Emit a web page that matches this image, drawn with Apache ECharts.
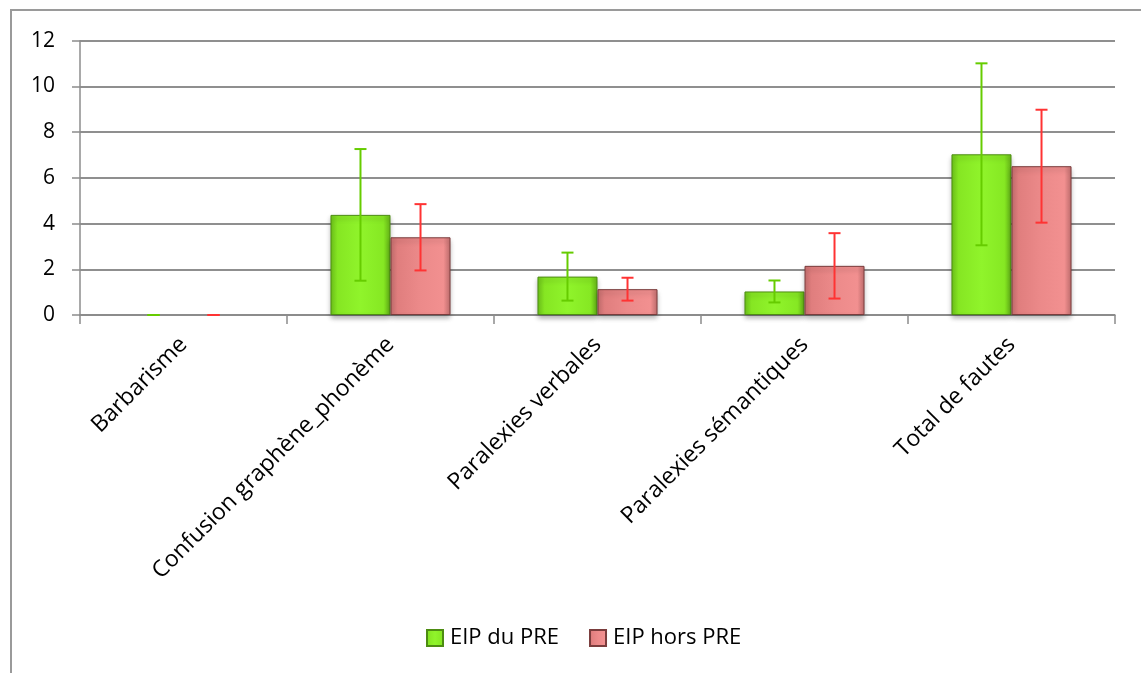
<!DOCTYPE html>
<html><head><meta charset="utf-8">
<script src="https://cdn.jsdelivr.net/npm/echarts@6/dist/echarts.min.js"></script>
<style>html,body{margin:0;padding:0;background:#fff}#c{width:1141px;height:673px}</style>
</head><body><div id="c"></div>
<script>
const categories = ['Barbarisme', 'Confusion graphène_phonème', 'Paralexies verbales', 'Paralexies sémantiques', 'Total de fautes'];
const seriesNames = ['EIP du PRE', 'EIP hors PRE'];
const eipDuValues = [0, 4.38, 1.68, 1.03, 7.03];
const eipDuErrors = [0, 2.88, 1.05, 0.48, 3.98];
const eipHorsValues = [0, 3.40, 1.13, 2.15, 6.51];
const eipHorsErrors = [0, 1.45, 0.50, 1.43, 2.47];
const yTicks = [0, 2, 4, 6, 8, 10, 12];

const FONT = 'Open Sans';
const chart = echarts.init(document.getElementById('c'));

function errSeries(name, vals, errs, sign, color) {
  return {
    type: 'custom', name: name + ' err', silent: true, z: 10,
    data: vals.map((v, i) => [i, v, errs[i]]),
    renderItem: function (params, api) {
      const i = api.value(0), v = api.value(1), e = api.value(2);
      const band = api.size([1, 0])[0];
      const c = api.coord([i, v]);
      const x = c[0] + sign * band * 0.145;
      const yt = api.coord([i, v + e])[1];
      const yb = api.coord([i, v - e])[1];
      const hw = 6;
      const st = { stroke: color, lineWidth: 2 };
      return { type: 'group', children: [
        { type: 'line', shape: { x1: x, y1: yt, x2: x, y2: yb }, style: st },
        { type: 'line', shape: { x1: x - hw, y1: yt, x2: x + hw, y2: yt }, style: st },
        { type: 'line', shape: { x1: x - hw, y1: yb, x2: x + hw, y2: yb }, style: st }
      ]};
    }
  };
}

function barData(vals) {
  return vals.map(v => v === 0 ? { value: v, itemStyle: { opacity: 0 } } : v);
}

const greenFill = new echarts.graphic.LinearGradient(0, 0, 1, 0, [
  { offset: 0, color: '#6fc51a' }, { offset: 0.12, color: '#86e623' },
  { offset: 0.5, color: '#90f42b' }, { offset: 0.88, color: '#86e823' }, { offset: 1, color: '#68b818' }]);
const redFill = new echarts.graphic.LinearGradient(0, 0, 1, 0, [
  { offset: 0, color: '#c87070' }, { offset: 0.12, color: '#e07e7e' },
  { offset: 0.5, color: '#ec8a8a' }, { offset: 0.88, color: '#f29090' }, { offset: 1, color: '#c47070' }]);

chart.setOption({
  animation: false,
  textStyle: { fontFamily: FONT },
  graphic: [{ type: 'rect', shape: { x: 11, y: 10, width: 1200, height: 700 },
    style: { fill: 'none', stroke: '#9a9a9a', lineWidth: 2 }, silent: true, z: -10 }],
  grid: { left: 80, right: 26, top: 40.7, bottom: 358 },
  legend: {
    data: seriesNames, left: 421, top: 622, itemWidth: 16, itemHeight: 16, itemGap: 30,
    textStyle: { fontFamily: FONT, fontSize: 22, color: '#000', padding: [0, 0, 0, 2] }, icon: 'rect'
  },
  xAxis: {
    type: 'category', data: categories,
    axisLine: { lineStyle: { color: '#8c8c8c', width: 1.5 } },
    axisTick: { show: true, length: 9, lineStyle: { color: '#8c8c8c', width: 1.5 } },
    axisLabel: { rotate: 45, fontSize: 23, color: '#000', margin: 26, fontFamily: FONT, interval: 0 }
  },
  yAxis: {
    type: 'value', min: 0, max: 12, interval: 2,
    axisLine: { show: true, lineStyle: { color: '#8c8c8c', width: 1.5 } },
    axisTick: { show: true, length: 8, lineStyle: { color: '#8c8c8c', width: 1.5 } },
    splitLine: { lineStyle: { color: '#8f8f8f', width: 1.8 } },
    axisLabel: { fontSize: 21, color: '#000', margin: 25, fontFamily: FONT,
      formatter: v => yTicks.includes(v) ? String(v) : '' }
  },
  series: [
    { type: 'bar', name: seriesNames[0], data: barData(eipDuValues), barWidth: '29%', barGap: '0%',
      itemStyle: { color: greenFill, borderColor: '#4d8c12', borderWidth: 1,
        shadowBlur: 5, shadowColor: 'rgba(0,0,0,0.3)', shadowOffsetY: 3 } },
    { type: 'bar', name: seriesNames[1], data: barData(eipHorsValues), barWidth: '29%', barGap: '0%',
      itemStyle: { color: redFill, borderColor: '#7a3c3c', borderWidth: 1,
        shadowBlur: 5, shadowColor: 'rgba(0,0,0,0.3)', shadowOffsetY: 3 } },
    errSeries(seriesNames[0], eipDuValues, eipDuErrors, -1, '#66cc00'),
    errSeries(seriesNames[1], eipHorsValues, eipHorsErrors, 1, '#ff3333')
  ]
});
</script></body></html>
